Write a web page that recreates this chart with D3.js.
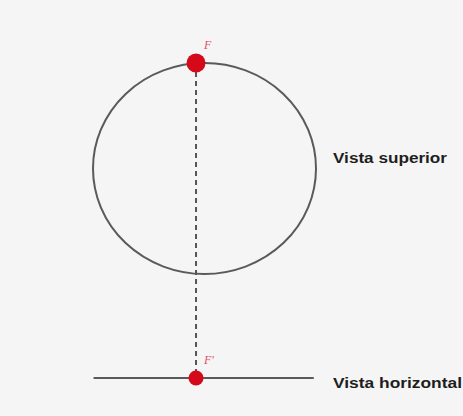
<!DOCTYPE html>
<html>
<head>
<meta charset="utf-8">
<script src="https://cdn.jsdelivr.net/npm/d3@7/dist/d3.min.js"></script>
<style>
  html, body { margin: 0; padding: 0; background: #f5f5f5; }
  svg { display: block; }
</style>
</head>
<body>
<svg id="chart" width="463" height="416"></svg>
<script>
// Diagram data (in model units: circle of radius 1 centred at origin)
const circleShape = [{ cx: 0, cy: 0, r: 1 }];
const points = [
  { name: "F",  x: -0.076, y: 1.0,    size: 9.5 },
  { name: "F'", x: -0.076, y: -1.986, size: 7.5 }
];
const horizontalLine = [{ x1: -0.995, x2: 0.98, y: -1.986 }];
const viewLabels = [
  { text: "Vista superior",   y: 0.1,    width: 114 },
  { text: "Vista horizontal", y: -2.03,  width: 129 }
];

const svg = d3.select("#chart");
const x = d3.scaleLinear().domain([-1, 1]).range([93, 316]);
const y = d3.scaleLinear().domain([1, -1]).range([63, 274]);

svg.append("rect").attr("width", 463).attr("height", 416).attr("fill", "#f5f5f5");

// circle (top view)
svg.selectAll("ellipse.view").data(circleShape).join("ellipse")
  .attr("class", "view")
  .attr("cx", d => x(d.cx))
  .attr("cy", d => y(d.cy))
  .attr("rx", d => x(d.r) - x(0))
  .attr("ry", d => y(0) - y(d.r))
  .attr("fill", "none")
  .attr("stroke", "#5a5a5a")
  .attr("stroke-width", 2);

// horizontal view line
svg.selectAll("line.hview").data(horizontalLine).join("line")
  .attr("class", "hview")
  .attr("x1", d => x(d.x1)).attr("x2", d => x(d.x2))
  .attr("y1", d => y(d.y)).attr("y2", d => y(d.y))
  .attr("stroke", "#5a5a5a")
  .attr("stroke-width", 2);

// dashed projection line
svg.append("line")
  .attr("x1", x(points[0].x)).attr("x2", x(points[1].x))
  .attr("y1", y(points[0].y)).attr("y2", y(points[1].y))
  .attr("stroke", "#555")
  .attr("stroke-width", 2)
  .attr("stroke-dasharray", "5,4");

// points
svg.selectAll("circle.pt").data(points).join("circle")
  .attr("class", "pt")
  .attr("cx", d => x(d.x))
  .attr("cy", d => y(d.y))
  .attr("r", d => d.size)
  .attr("fill", "#d40a1a");

// point labels
svg.selectAll("text.ptlab").data(points).join("text")
  .attr("class", "ptlab")
  .attr("x", d => x(d.x) + 8)
  .attr("y", d => y(d.y) - 14)
  .attr("font-family", "Liberation Serif, serif")
  .attr("font-style", "italic")
  .attr("font-size", 12)
  .attr("fill", "#e05060")
  .text(d => d.name);

// view labels
svg.selectAll("text.vlab").data(viewLabels).join("text")
  .attr("class", "vlab")
  .attr("x", 333)
  .attr("y", d => y(d.y) + 5)
  .attr("font-family", "Liberation Sans, Arial, sans-serif")
  .attr("font-weight", "bold")
  .attr("font-size", 14)
  .attr("fill", "#1e1e1e")
  .attr("textLength", d => d.width)
  .attr("lengthAdjust", "spacingAndGlyphs")
  .text(d => d.text);
</script>
</body>
</html>
